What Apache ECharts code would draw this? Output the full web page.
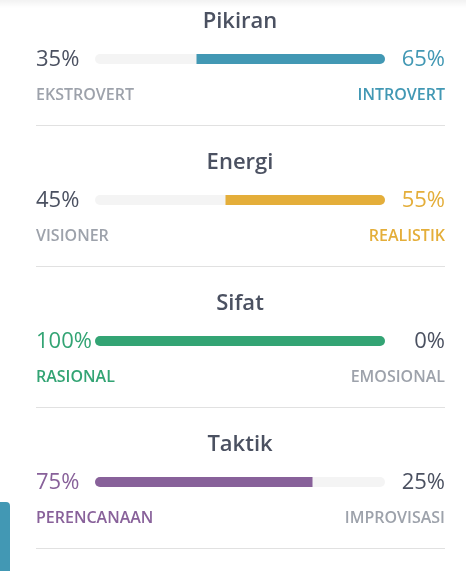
<!DOCTYPE html>
<html>
<head>
<meta charset="utf-8">
<style>
html,body{margin:0;padding:0;background:#fff;}
#chart{width:466px;height:571px;}
</style>
<script src="https://cdn.jsdelivr.net/npm/echarts@6/dist/echarts.min.js"></script>
</head>
<body>
<div id="chart"></div>
<script>
const dims = ['Pikiran', 'Energi', 'Sifat', 'Taktik'];
const leftPct = [35, 45, 100, 75];
const rightPct = [65, 55, 0, 25];
const leftTraits = ['EKSTROVERT', 'VISIONER', 'RASIONAL', 'PERENCANAAN'];
const rightTraits = ['INTROVERT', 'REALISTIK', 'EMOSIONAL', 'IMPROVISASI'];
const dominant = ['right', 'right', 'left', 'left'];
const colors = ['#4298b4', '#e4ae3a', '#33a474', '#88619a'];

const FONT = '"Open Sans", sans-serif';
const DARK = '#4b5161';
const GRAY = '#9da2ab';
const STEP = 141;
const GL = 95, GW = 290, TXL = 36, TXR = 445;

const grids = [], xAxes = [], yAxes = [], series = [], graphics = [];

// top shadow
graphics.push({
  type: 'rect', silent: true,
  shape: { x: 0, y: 0, width: 466, height: 8 },
  style: { fill: new echarts.graphic.LinearGradient(0, 0, 0, 1, [
    { offset: 0, color: 'rgba(0,0,0,0.05)' }, { offset: 1, color: 'rgba(0,0,0,0)' }]) }
});
// side element at bottom left
graphics.push({
  type: 'rect', silent: true,
  shape: { x: -10, y: 502, width: 20, height: 90, r: 4 },
  style: { fill: '#4298b4' }
});

dims.forEach((d, i) => {
  const top = 54 + STEP * i;
  grids.push({ left: GL, width: GW, top: top, height: 10 });
  xAxes.push({ gridIndex: i, type: 'value', min: 0, max: 100, show: false });
  yAxes.push({ gridIndex: i, type: 'category', data: [d], show: false });
  const lDom = dominant[i] === 'left';
  const r = 5;
  series.push({
    type: 'bar', xAxisIndex: i, yAxisIndex: i, stack: 's' + i,
    barWidth: 10, silent: true,
    data: [leftPct[i]],
    showBackground: true,
    backgroundStyle: { color: '#f4f4f4', borderRadius: r },
    itemStyle: {
      color: lDom ? colors[i] : 'rgba(0,0,0,0)',
      borderRadius: [r, rightPct[i] === 0 ? r : 0, rightPct[i] === 0 ? r : 0, r]
    }
  });
  series.push({
    type: 'bar', xAxisIndex: i, yAxisIndex: i, stack: 's' + i,
    barWidth: 10, silent: true,
    data: [rightPct[i]],
    itemStyle: {
      color: lDom ? 'rgba(0,0,0,0)' : colors[i],
      borderRadius: [leftPct[i] === 0 ? r : 0, r, r, leftPct[i] === 0 ? r : 0]
    }
  });

  const base = STEP * i;
  graphics.push({
    type: 'text', silent: true, x: 240, y: 22 + base,
    style: { text: d, font: '600 22px ' + FONT, fill: DARK, textAlign: 'center', textVerticalAlign: 'middle' }
  });
  graphics.push({
    type: 'text', silent: true, x: TXL, y: 60 + base,
    style: { text: leftPct[i] + '%', font: '500 22px ' + FONT, fill: lDom ? colors[i] : DARK, textAlign: 'left', textVerticalAlign: 'middle' }
  });
  graphics.push({
    type: 'text', silent: true, x: TXR, y: 60 + base,
    style: { text: rightPct[i] + '%', font: '500 22px ' + FONT, fill: lDom ? DARK : colors[i], textAlign: 'right', textVerticalAlign: 'middle' }
  });
  graphics.push({
    type: 'text', silent: true, x: TXL, y: 95 + base,
    style: { text: leftTraits[i], font: '600 16px ' + FONT, fill: lDom ? colors[i] : GRAY, textAlign: 'left', textVerticalAlign: 'middle' }
  });
  graphics.push({
    type: 'text', silent: true, x: TXR, y: 95 + base,
    style: { text: rightTraits[i], font: '600 16px ' + FONT, fill: lDom ? GRAY : colors[i], textAlign: 'right', textVerticalAlign: 'middle' }
  });
  graphics.push({
    type: 'rect', silent: true,
    shape: { x: TXL, y: 125 + base, width: TXR - TXL, height: 1 },
    style: { fill: '#e1e1e1' }
  });
});

const chart = echarts.init(document.getElementById('chart'), null, { renderer: 'canvas' });
chart.setOption({
  animation: false,
  backgroundColor: '#fff',
  grid: grids,
  xAxis: xAxes,
  yAxis: yAxes,
  series: series,
  graphic: graphics
});
</script>
</body>
</html>
